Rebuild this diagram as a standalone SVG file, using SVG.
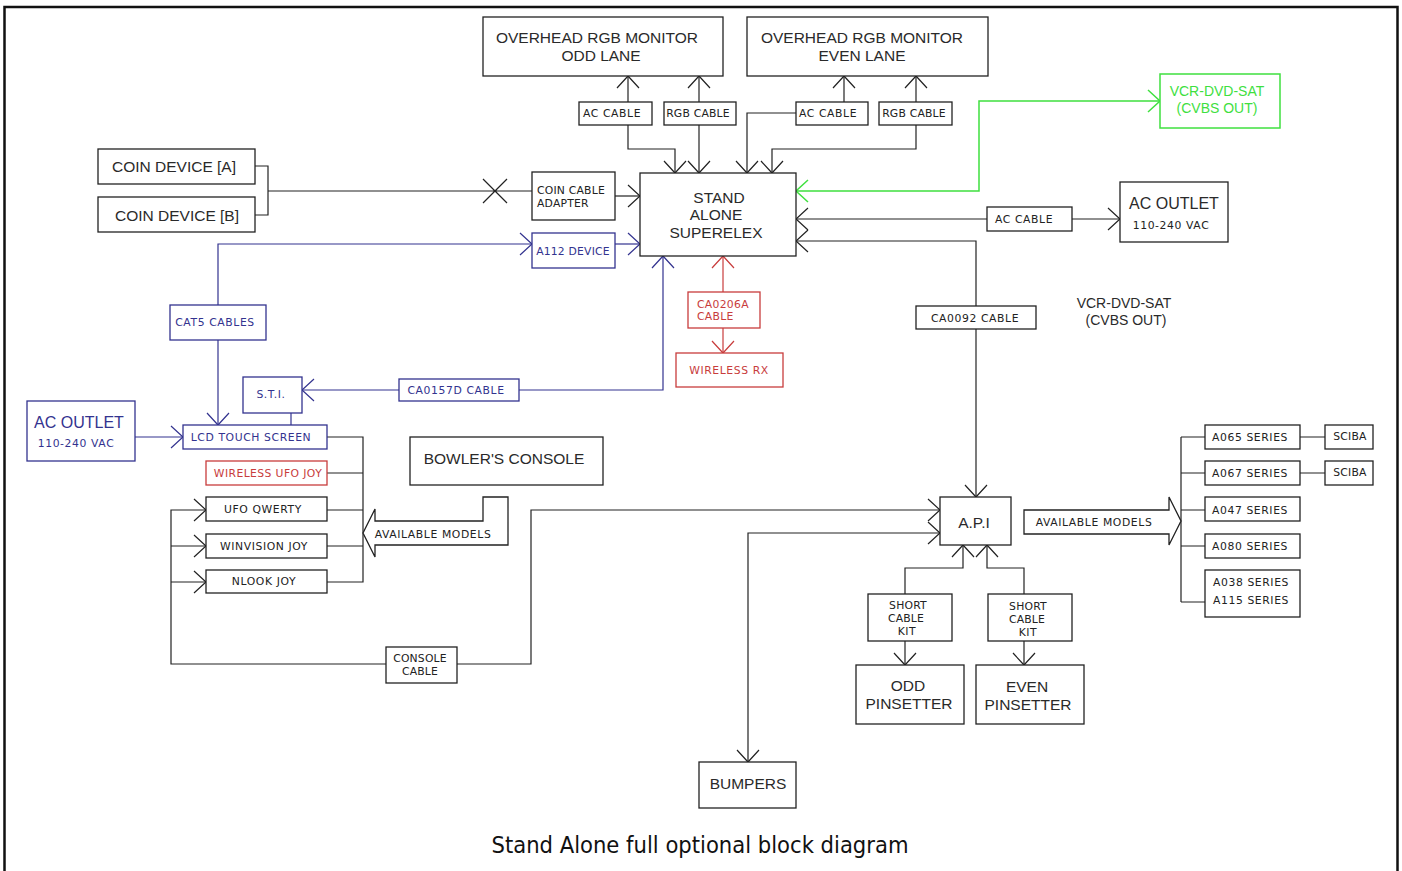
<svg xmlns="http://www.w3.org/2000/svg" width="1402" height="871" viewBox="0 0 1402 871">
<style>
.n{fill:#fff;stroke:#222;stroke-width:1.3}
.nb{fill:#fff;stroke:#33338f;stroke-width:1.3}
.nr{fill:#fff;stroke:#c83c3c;stroke-width:1.3}
.ng{fill:#fff;stroke:#3fe03f;stroke-width:1.5}
.c{fill:none;stroke:#222;stroke-width:1.2}
.cb{fill:none;stroke:#33338f;stroke-width:1.2}
.cr{fill:none;stroke:#c83c3c;stroke-width:1.2}
.cg{fill:none;stroke:#3fe03f;stroke-width:1.5}
.t{font-family:"Liberation Sans",Arial,sans-serif;font-size:15.5px;fill:#2a2a2a;text-anchor:middle}
.s{font-family:"DejaVu Sans",Verdana,sans-serif;font-size:10.8px;fill:#222;text-anchor:middle;letter-spacing:0.6px}
.l{text-anchor:start}
.bl{fill:#33338f}
.rd{fill:#c83c3c}
.gr{fill:#3fe03f}
</style>
<defs>
<marker id="a" markerUnits="userSpaceOnUse" markerWidth="30" markerHeight="30" refX="0" refY="0" orient="auto-start-reverse" overflow="visible"><path d="M-12,-11 L0,0 L-12,11" fill="none" stroke="#222" stroke-width="1.2"/></marker>
<marker id="ab" markerUnits="userSpaceOnUse" markerWidth="30" markerHeight="30" refX="0" refY="0" orient="auto-start-reverse" overflow="visible"><path d="M-12,-11 L0,0 L-12,11" fill="none" stroke="#33338f" stroke-width="1.2"/></marker>
<marker id="ar" markerUnits="userSpaceOnUse" markerWidth="30" markerHeight="30" refX="0" refY="0" orient="auto-start-reverse" overflow="visible"><path d="M-12,-11 L0,0 L-12,11" fill="none" stroke="#c83c3c" stroke-width="1.2"/></marker>
<marker id="ag" markerUnits="userSpaceOnUse" markerWidth="30" markerHeight="30" refX="0" refY="0" orient="auto-start-reverse" overflow="visible"><path d="M-12,-11 L0,0 L-12,11" fill="none" stroke="#3fe03f" stroke-width="1.5"/></marker>
</defs>
<rect width="1402" height="871" fill="#fff"/>
<path d="M4.5,871 V7 H1397.5 V871" fill="none" stroke="#111" stroke-width="2.5"/>

<g id="connectors">
<path class="c" d="M628,102 V76" marker-end="url(#a)"/>
<path class="c" d="M699,102 V76" marker-end="url(#a)"/>
<path class="c" d="M844,102 V76" marker-end="url(#a)"/>
<path class="c" d="M916,102 V76" marker-end="url(#a)"/>
<path class="c" d="M628,125 V149 H675 V173" marker-end="url(#a)"/>
<path class="c" d="M699,125 V173" marker-end="url(#a)"/>
<path class="c" d="M796,113 H747 V173" marker-end="url(#a)"/>
<path class="c" d="M916,125 V149 H772 V173" marker-end="url(#a)"/>
<path class="c" d="M255,166 H268 V215 H255 M268,191 H532 M483,179 L507,203 M483,203 L507,179"/>
<path class="c" d="M615,196 H640" marker-end="url(#a)"/>
<path class="c" d="M987,219 H796" marker-end="url(#a)"/>
<path class="c" d="M1072,219 H1120" marker-end="url(#a)"/>
<path class="c" d="M976,306 V241 H796" marker-end="url(#a)"/>
<path class="c" d="M976,329 V497" marker-end="url(#a)"/>
<path class="c" d="M327,437 H363 V582 H327 M327,473 H363 M327,510 H363 M327,546 H363"/>
<path class="c" d="M386,664 H171 V510 H206" marker-end="url(#a)"/>
<path class="c" d="M171,546 H206" marker-end="url(#a)"/>
<path class="c" d="M171,582 H206" marker-end="url(#a)"/>
<path class="c" d="M457,664 H531 V510 H940" marker-end="url(#a)"/>
<path class="c" d="M940,533 H748 V762" marker-start="url(#a)" marker-end="url(#a)"/>
<path class="c" d="M905,594 V568 H963 V545" marker-end="url(#a)"/>
<path class="c" d="M1024,594 V568 H987 V545" marker-end="url(#a)"/>
<path class="c" d="M905,641 V665" marker-end="url(#a)"/>
<path class="c" d="M1024,641 V665" marker-end="url(#a)"/>
<path class="c" d="M1181,437 V602 M1181,437 H1205 M1181,473 H1205 M1181,510 H1205 M1181,546 H1205 M1181,602 H1205"/>
<path class="c" d="M1300,437 H1325 M1300,473 H1325"/>
<path class="cb" d="M218,305 V244 H532" marker-end="url(#ab)"/>
<path class="cb" d="M615,244 H640" marker-end="url(#ab)"/>
<path class="cb" d="M218,340 V425" marker-end="url(#ab)"/>
<path class="cb" d="M291,413 V425"/>
<path class="cb" d="M399,390 H302" marker-end="url(#ab)"/>
<path class="cb" d="M519,390 H663 V256" marker-end="url(#ab)"/>
<path class="cb" d="M135,437 H183" marker-end="url(#ab)"/>
<path class="cr" d="M723,292 V256" marker-end="url(#ar)"/>
<path class="cr" d="M723,328 V353" marker-end="url(#ar)"/>
<path class="cg" d="M796,191 H979 V101 H1160" marker-start="url(#ag)" marker-end="url(#ag)"/>
</g>

<g id="mon-odd"><rect class="n" x="483" y="17" width="240" height="59"/><text class="t" x="597" y="43">OVERHEAD RGB MONITOR</text><text class="t" x="601" y="61">ODD LANE</text></g>
<g id="mon-even"><rect class="n" x="747" y="17" width="241" height="59"/><text class="t" x="862" y="43">OVERHEAD RGB MONITOR</text><text class="t" x="862" y="61">EVEN LANE</text></g>
<g id="ac1"><rect class="n" x="579" y="102" width="73" height="23"/><text class="s" x="612" y="117">AC CABLE</text></g>
<g id="rgb1"><rect class="n" x="664" y="102" width="72" height="23"/><text class="s" x="698" y="117" style="letter-spacing:0.2px">RGB CABLE</text></g>
<g id="ac2"><rect class="n" x="796" y="102" width="72" height="23"/><text class="s" x="828" y="117">AC CABLE</text></g>
<g id="rgb2"><rect class="n" x="879" y="102" width="73" height="23"/><text class="s" x="914" y="117" style="letter-spacing:0.2px">RGB CABLE</text></g>
<g id="vcr"><rect class="ng" x="1160" y="74" width="120" height="54"/><text class="t gr" x="1217" y="96" style="font-size:14px">VCR-DVD-SAT</text><text class="t gr" x="1217" y="113" style="font-size:14px">(CVBS OUT)</text></g>
<g id="coin-a"><rect class="n" x="98" y="149" width="157" height="35"/><text class="t" x="174" y="172">COIN DEVICE [A]</text></g>
<g id="coin-b"><rect class="n" x="98" y="197" width="157" height="35"/><text class="t" x="177" y="221">COIN DEVICE [B]</text></g>
<g id="coin-adapter"><rect class="n" x="532" y="172" width="83" height="48"/><text class="s l" x="537" y="194" style="letter-spacing:0.2px">COIN CABLE</text><text class="s l" x="537" y="207" style="letter-spacing:0.2px">ADAPTER</text></g>
<g id="stand-alone"><rect class="n" x="640" y="173" width="156" height="83"/><text class="t" x="719" y="203">STAND</text><text class="t" x="716" y="220">ALONE</text><text class="t" x="716" y="238">SUPERELEX</text></g>
<g id="ac3"><rect class="n" x="987" y="207" width="85" height="24"/><text class="s" x="1024" y="223">AC CABLE</text></g>
<g id="ac-outlet-r"><rect class="n" x="1120" y="182" width="108" height="60"/><text class="t" x="1174" y="209" style="font-size:16px">AC OUTLET</text><text class="s" x="1171" y="229">110-240 VAC</text></g>
<g id="a112"><rect class="nb" x="532" y="233" width="83" height="35"/><text class="s bl" x="573" y="255" style="letter-spacing:0.2px">A112 DEVICE</text></g>
<g id="ca0206a"><rect class="nr" x="688" y="292" width="72" height="36"/><text class="s l rd" x="697" y="308" style="letter-spacing:0.3px">CA0206A</text><text class="s l rd" x="697" y="320" style="letter-spacing:0.3px">CABLE</text></g>
<g id="wireless-rx"><rect class="nr" x="676" y="353" width="107" height="34"/><text class="s rd" x="729" y="374">WIRELESS RX</text></g>
<g id="ca0092"><rect class="n" x="916" y="306" width="120" height="23"/><text class="s" x="975" y="322">CA0092 CABLE</text></g>
<text class="t" x="1124" y="308" style="font-size:14px">VCR-DVD-SAT</text>
<text class="t" x="1126" y="325" style="font-size:14px">(CVBS OUT)</text>
<g id="cat5"><rect class="nb" x="170" y="305" width="96" height="35"/><text class="s bl" x="215" y="326">CAT5 CABLES</text></g>
<g id="sti"><rect class="nb" x="243" y="377" width="59" height="36"/><text class="s bl" x="271" y="398">S.T.I.</text></g>
<g id="ca0157d"><rect class="nb" x="399" y="379" width="120" height="22"/><text class="s bl" x="456" y="394">CA0157D CABLE</text></g>
<g id="ac-outlet-l"><rect class="nb" x="27" y="401" width="108" height="60"/><text class="t bl" x="79" y="428" style="font-size:16px">AC OUTLET</text><text class="s bl" x="76" y="447">110-240 VAC</text></g>
<g id="lcd"><rect class="nb" x="183" y="425" width="144" height="24"/><text class="s bl" x="251" y="441">LCD TOUCH SCREEN</text></g>
<g id="bowler"><rect class="n" x="410" y="437" width="193" height="48"/><text class="t" x="504" y="464">BOWLER'S CONSOLE</text></g>
<g id="wireless-ufo"><rect class="nr" x="206" y="461" width="121" height="24"/><text class="s rd" x="268" y="477" style="letter-spacing:0.4px">WIRELESS UFO JOY</text></g>
<g id="ufo-qwerty"><rect class="n" x="206" y="497" width="121" height="24"/><text class="s" x="263" y="513">UFO QWERTY</text></g>
<g id="winvision"><rect class="n" x="206" y="534" width="121" height="24"/><text class="s" x="264" y="550">WINVISION JOY</text></g>
<g id="nlook"><rect class="n" x="206" y="570" width="121" height="23"/><text class="s" x="264" y="585">NLOOK JOY</text></g>
<g id="models-left"><path class="n" d="M483,497 H508 V545 H375 V557 L363,533 L375,509 V521 H483 Z"/><text class="s" x="433" y="538">AVAILABLE MODELS</text></g>
<g id="console-cable"><rect class="n" x="386" y="647" width="71" height="36"/><text class="s" x="420" y="662" style="letter-spacing:0.2px">CONSOLE</text><text class="s" x="420" y="675" style="letter-spacing:0.2px">CABLE</text></g>
<g id="api"><rect class="n" x="940" y="497" width="71" height="48"/><text class="t" x="974" y="528">A.P.I</text></g>
<g id="models-right"><path class="n" d="M1024,510 H1169 V497 L1181,521 L1169,545 V534 H1024 Z"/><text class="s" x="1094" y="526">AVAILABLE MODELS</text></g>
<g id="sck1"><rect class="n" x="868" y="594" width="84" height="47"/><text class="s" x="908" y="609" style="letter-spacing:0.2px">SHORT</text><text class="s" x="906" y="622" style="letter-spacing:0.2px">CABLE</text><text class="s" x="907" y="635">KIT</text></g>
<g id="sck2"><rect class="n" x="988" y="594" width="84" height="47"/><text class="s" x="1028" y="610" style="letter-spacing:0.2px">SHORT</text><text class="s" x="1027" y="623" style="letter-spacing:0.2px">CABLE</text><text class="s" x="1028" y="636">KIT</text></g>
<g id="odd-pin"><rect class="n" x="856" y="665" width="108" height="59"/><text class="t" x="908" y="691">ODD</text><text class="t" x="909" y="709">PINSETTER</text></g>
<g id="even-pin"><rect class="n" x="976" y="665" width="108" height="59"/><text class="t" x="1027" y="692">EVEN</text><text class="t" x="1028" y="710">PINSETTER</text></g>
<g id="bumpers"><rect class="n" x="699" y="762" width="97" height="46"/><text class="t" x="748" y="789">BUMPERS</text></g>
<g id="a065"><rect class="n" x="1205" y="425" width="95" height="24"/><text class="s" x="1250" y="441">A065 SERIES</text></g>
<g id="a067"><rect class="n" x="1205" y="461" width="95" height="24"/><text class="s" x="1250" y="477">A067 SERIES</text></g>
<g id="a047"><rect class="n" x="1205" y="497" width="95" height="24"/><text class="s" x="1250" y="514">A047 SERIES</text></g>
<g id="a080"><rect class="n" x="1205" y="534" width="95" height="24"/><text class="s" x="1250" y="550">A080 SERIES</text></g>
<g id="a038"><rect class="n" x="1205" y="570" width="95" height="47"/><text class="s" x="1251" y="586">A038 SERIES</text><text class="s" x="1251" y="604">A115 SERIES</text></g>
<g id="sciba1"><rect class="n" x="1325" y="425" width="48" height="24"/><text class="s" x="1350" y="440" style="letter-spacing:0.2px">SCIBA</text></g>
<g id="sciba2"><rect class="n" x="1325" y="461" width="48" height="24"/><text class="s" x="1350" y="476" style="letter-spacing:0.2px">SCIBA</text></g>
<text x="700" y="853" style="font-family:'DejaVu Sans Condensed','DejaVu Sans',sans-serif;font-stretch:condensed;font-size:23.5px;fill:#111;text-anchor:middle">Stand Alone full optional block diagram</text>
</svg>
